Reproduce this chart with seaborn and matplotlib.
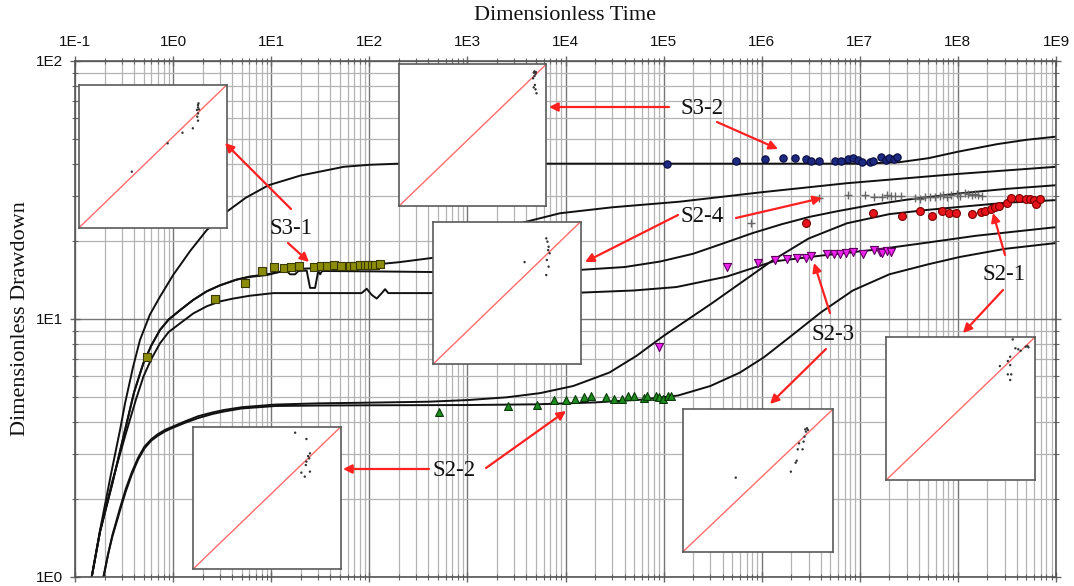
import numpy as np
import pandas as pd
import matplotlib
matplotlib.use("Agg")
import matplotlib.pyplot as plt
from matplotlib.ticker import LogLocator, NullFormatter
import seaborn as sns

sns.set_style("white")
plt.rcParams['font.family'] = ['Liberation Sans', 'DejaVu Sans']
SERIF = ['Liberation Serif', 'DejaVu Serif']

# ---------------- type curves (dimensionless time, dimensionless drawdown) ----------------
curve_a_t = [0.148, 0.18, 0.23, 0.288, 0.324, 0.39, 0.46, 0.58, 0.735, 1.0, 1.5, 2.2, 3.5, 5.5, 9.4, 20, 55, 100,
             200, 1e3, 1e4, 1e5, 1e6, 1e7, 2.5e7, 5e7, 1e8, 2.5e8, 5e8, 1e9]
curve_a_s = [1.0, 1.52, 2.45, 3.72, 4.72, 6.5, 8.3, 10.4, 12.2, 14.8, 18.4, 22.1, 26.0, 29.5, 33.0, 36.0, 38.9, 39.6,
             40.0, 40.0, 40.0, 40.0, 40.0, 40.0, 40.5, 42.0, 44.5, 47.6, 49.5, 50.9]

curve_b_t = [0.148, 0.18, 0.24, 0.324, 0.4, 0.497, 0.6, 0.735, 0.9, 1.17, 1.6, 2.2, 3.0, 4.4, 6.0, 9.0, 16.8, 40,
             80, 200, 525, 1e3, 2.5e3, 8.8e3, 3e4, 1.47e5, 1e6, 7.4e6, 1e8, 1e9]
curve_b_s = [1.0, 1.5, 2.3, 3.72, 5.2, 6.73, 7.9, 9.07, 9.95, 10.8, 11.85, 12.8, 13.5, 14.2, 14.6, 14.9, 15.6, 15.85,
             16.05, 16.6, 17.4, 19.0, 22.8, 25.7, 27.1, 28.5, 31.0, 33.6, 36.5, 38.9]

curve_c_t = [0.148, 0.18, 0.24, 0.324, 0.4, 0.497, 0.6, 0.735, 0.9, 1.17, 1.6, 2.2, 3.0, 4.4, 6.0, 9.0, 12, 14.4,
             15.6, 17.5, 18.9, 23, 24.9, 28, 30.2, 31.5, 33, 100, 500, 1.4e4, 4e4, 9.2e4, 2e5, 4e5, 8e5, 1.6e6,
             3.1e6, 6e6, 1.2e7, 3e7, 1.05e8, 3e8, 1e9]
curve_c_s = [1.0, 1.5, 2.3, 3.72, 5.2, 6.73, 7.9, 9.07, 9.95, 10.8, 11.85, 12.8, 13.5, 14.2, 14.55, 14.8, 15.2, 15.35,
             14.9, 14.9, 15.35, 15.4, 13.2, 13.2, 15.4, 14.9, 15.35, 15.3, 15.2, 15.5, 15.9, 16.7, 17.9, 19.6, 21.5,
             23.3, 24.9, 26.2, 27.5, 29.0, 30.7, 31.9, 33.0]

curve_d_t = [0.148, 0.18, 0.24, 0.33, 0.42, 0.5, 0.6, 0.735, 0.9, 1.17, 1.6, 2.2, 3.0, 4.1, 6.0, 10.5, 30, 83.6, 94,
             106, 119, 134, 145, 156, 500, 1.4e4, 5e4, 1.35e5, 4.4e5, 1.3e6, 4e6, 1.5e7, 5e7, 1.5e8, 1e9]
curve_d_s = [1.0, 1.5, 2.35, 3.6, 4.9, 6.0, 7.0, 8.05, 8.9, 9.6, 10.5, 11.2, 11.7, 12.0, 12.3, 12.6, 12.6, 12.6, 13.1,
             12.4, 12.0, 12.6, 13.05, 12.6, 12.6, 12.65, 12.9, 13.3, 14.6, 16.7, 17.6, 18.6, 19.8, 21.0, 22.7]

curve_e_t = [0.195, 0.22, 0.24, 0.29, 0.33, 0.38, 0.44, 0.51, 0.6, 0.7, 0.83, 0.98, 1.3, 1.8, 2.5, 3.3, 5, 11, 30,
             100, 400, 1e3, 2.5e3, 5.5e3, 1.2e4, 2.8e4, 5.3e4, 1e5, 3.1e5, 1.3e6, 3e6, 7.4e6, 2e7, 5e7, 1.05e8,
             3e8, 1e9]
curve_e_s = [1.0, 1.25, 1.45, 1.87, 2.2, 2.55, 2.9, 3.2, 3.42, 3.58, 3.72, 3.82, 4.0, 4.2, 4.34, 4.44, 4.55, 4.66,
             4.71, 4.74, 4.78, 4.85, 4.97, 5.16, 5.5, 6.2, 7.2, 8.6, 11.5, 16.9, 20.5, 23.5, 25.5, 26.5, 27.2,
             28.2, 28.9]

curve_f_t = [0.195, 0.22, 0.24, 0.29, 0.33, 0.38, 0.44, 0.51, 0.6, 0.7, 0.83, 0.98, 1.3, 1.8, 2.5, 3.3, 5, 11, 30,
             100, 1e3, 5.1e3, 2e4, 6e4, 1.4e5, 3e5, 6e5, 1.05e6, 2e6, 4e6, 8.5e6, 2e7, 5e7, 1.05e8, 3e8, 1e9]
curve_f_s = [1.0, 1.25, 1.43, 1.83, 2.15, 2.5, 2.85, 3.15, 3.38, 3.53, 3.67, 3.78, 3.95, 4.13, 4.28, 4.38, 4.5, 4.6,
             4.62, 4.63, 4.64, 4.67, 4.75, 4.87, 5.05, 5.5, 6.2, 7.1, 8.6, 10.6, 12.9, 14.9, 16.3, 17.4, 18.7, 19.7]

# ---------------- measured data ----------------
s31_t = [0.54, 2.67, 5.4, 8.0, 10.8, 13.5, 15.8, 19.3, 27.3, 32, 37, 43.7, 51, 64, 70, 80, 90, 97, 106, 114, 128]
s31_s = [7.1, 11.95, 13.8, 15.3, 15.9, 15.7, 15.9, 16.0, 15.9, 16.0, 16.0, 16.2, 16.0, 16.1, 16.1, 16.2, 16.15,
         16.15, 16.15, 16.15, 16.3]

s32_t = [1.09e5, 5.5e5, 1.08e6, 1.66e6, 2.2e6, 2.8e6, 3.2e6, 3.8e6, 5.6e6, 6.5e6, 7.6e6, 8.6e6, 9.6e6, 1.05e7,
         1.27e7, 1.37e7, 1.66e7, 1.86e7, 2.0e7, 2.25e7, 2.4e7]
s32_s = [40.0, 41.0, 41.6, 42.0, 42.0, 41.6, 40.8, 40.8, 41.0, 40.8, 41.7, 42.0, 41.3, 40.5, 40.5, 41.0, 42.3,
         41.3, 42.0, 41.6, 42.3]

s21_t = [2.8e6, 1.35e7, 2.7e7, 4.1e7, 5.5e7, 6.9e7, 8.2e7, 9.5e7, 1.4e8, 1.7e8, 1.9e8, 2.2e8, 2.4e8, 2.6e8,
         3.2e8, 3.5e8, 4.2e8, 4.9e8, 5.4e8, 6.0e8, 6.3e8, 6.9e8]
s21_s = [23.6, 25.8, 25.1, 26.2, 25.1, 26.3, 25.8, 25.7, 25.5, 26.1, 26.3, 26.7, 27.2, 27.5, 28.1, 29.5, 29.5,
         29.3, 29.3, 29.0, 27.8, 29.3]

s23_t = [9.0e4, 4.4e5, 9.2e5, 1.37e6, 1.8e6, 2.3e6, 2.8e6, 3.2e6, 4.6e6, 5.4e6, 6.3e6, 7.3e6, 8.5e6, 1.07e7,
         1.4e7, 1.6e7, 1.7e7, 1.9e7, 2.1e7]
s23_s = [7.77, 15.9, 16.5, 16.9, 17.1, 17.2, 17.3, 17.6, 17.9, 17.9, 17.9, 18.0, 18.2, 17.9, 18.5, 18.2, 18.0,
         18.3, 18.2]

s24_t = [7.7e5, 3.8e6, 7.6e6, 1.13e7, 1.4e7, 1.7e7, 1.9e7, 2.1e7, 2.3e7, 2.6e7, 3.66e7, 4.1e7, 4.6e7, 5.2e7,
         5.8e7, 6.6e7, 7.0e7, 7.7e7, 8.6e7, 9.7e7, 1.05e8, 1.18e8, 1.28e8, 1.38e8, 1.5e8, 1.6e8, 1.75e8]
s24_s = [23.6, 29.4, 30.2, 30.2, 29.8, 29.8, 30.2, 30.0, 30.0, 30.0, 29.4, 29.2, 29.6, 29.7, 29.8, 30.0, 30.3,
         29.8, 30.3, 30.5, 30.1, 30.8, 30.5, 30.3, 30.6, 30.3, 30.1]

s22_t = [515, 2.6e3, 5.1e3, 7.6e3, 1.0e4, 1.25e4, 1.54e4, 1.8e4, 2.6e4, 3.1e4, 3.8e4, 4.3e4, 5.0e4, 6.3e4,
         6.8e4, 8.4e4, 9.0e4, 9.8e4, 1.1e5, 1.2e5]
s22_s = [4.37, 4.6, 4.64, 4.85, 4.85, 4.9, 5.0, 5.03, 5.0, 4.9, 4.9, 5.03, 5.03, 4.93, 5.03, 5.03, 4.97, 4.9,
         5.03, 5.03]

# ---------------- fitted-vs-measured panels (fractions of panel) ----------------
p31_x = [0.807, 0.807, 0.80, 0.814, 0.807, 0.802, 0.807, 0.772, 0.702, 0.602, 0.36, 0.81]
p31_y = [0.860, 0.844, 0.826, 0.830, 0.802, 0.779, 0.751, 0.698, 0.667, 0.593, 0.395, 0.872]
p32_x = [0.915, 0.927, 0.92, 0.911, 0.923, 0.915, 0.927, 0.934, 0.92, 0.93]
p32_y = [0.941, 0.932, 0.917, 0.901, 0.854, 0.837, 0.823, 0.795, 0.95, 0.945]
p24_x = [0.767, 0.783, 0.79, 0.771, 0.783, 0.767, 0.62, 0.78, 0.775]
p24_y = [0.883, 0.824, 0.778, 0.731, 0.684, 0.625, 0.716, 0.80, 0.86]
p22_x = [0.691, 0.767, 0.791, 0.779, 0.786, 0.767, 0.763, 0.733, 0.791, 0.756]
p22_y = [0.958, 0.914, 0.813, 0.794, 0.778, 0.755, 0.731, 0.678, 0.685, 0.650]
p23_x = [0.828, 0.834, 0.821, 0.816, 0.811, 0.805, 0.775, 0.766, 0.798, 0.759, 0.752, 0.72, 0.352]
p23_y = [0.867, 0.855, 0.843, 0.859, 0.808, 0.773, 0.761, 0.719, 0.719, 0.639, 0.625, 0.562, 0.52]
p21_x = [0.848, 0.866, 0.885, 0.901, 0.935, 0.947, 0.954, 0.831, 0.815, 0.831, 0.762, 0.815, 0.838, 0.831]
p21_y = [0.981, 0.919, 0.912, 0.902, 0.930, 0.935, 0.926, 0.860, 0.830, 0.802, 0.795, 0.737, 0.737, 0.698]
diag = [0.0, 1.0]

# tick labels
x_ticks = [1e-1, 1e0, 1e1, 1e2, 1e3, 1e4, 1e5, 1e6, 1e7, 1e8, 1e9]
x_tick_labels = ["1E-1", "1E0", "1E1", "1E2", "1E3", "1E4", "1E5", "1E6", "1E7", "1E8", "1E9"]
y_ticks = [1e0, 1e1, 1e2]
y_tick_labels = ["1E0", "1E1", "1E2"]

# ---------------- figure ----------------
W, H = 1074, 586
fig = plt.figure(figsize=(W / 100, H / 100), dpi=100)


def px_axes(l, t, r, b):
    return fig.add_axes([l / W, 1 - b / H, (r - l) / W, (b - t) / H])


ax = px_axes(75, 61, 1056, 577)
ax.set_xscale('log')
ax.set_yscale('log')
ax.set_xlim(1e-1, 1e9)
ax.set_ylim(1, 100)

curves = pd.concat([
    pd.DataFrame({'t': t, 's': s, 'curve': name}) for name, t, s in [
        ('A', curve_a_t, curve_a_s), ('B', curve_b_t, curve_b_s), ('C', curve_c_t, curve_c_s),
        ('D', curve_d_t, curve_d_s), ('E', curve_e_t, curve_e_s), ('F', curve_f_t, curve_f_s)]
], ignore_index=True)
sns.lineplot(data=curves, x='t', y='s', units='curve', estimator=None, sort=False,
             color='#111111', lw=1.4, ax=ax, legend=False, zorder=2)

mk = dict(ax=ax, legend=False, zorder=3)
sns.scatterplot(x=s31_t, y=s31_s, marker='s', s=26, color='#8c8c0a', edgecolor='#3a3a00', linewidth=0.8, **mk)
sns.scatterplot(x=s32_t, y=s32_s, marker='o', s=28, color='#1c2a80', edgecolor='#0a0a40', linewidth=0.8, **mk)
sns.scatterplot(x=s21_t, y=s21_s, marker='o', s=32, color='#e8141c', edgecolor='#7a0000', linewidth=0.8, **mk)
sns.scatterplot(x=s23_t, y=s23_s, marker='v', s=34, color='#ee22ee', edgecolor='#600060', linewidth=0.8, **mk)
sns.scatterplot(x=s22_t, y=s22_s, marker='^', s=32, color='#1e8c1e', edgecolor='#0a3a0a', linewidth=0.8, **mk)
sns.scatterplot(x=s24_t, y=s24_s, marker='+', s=32, color='#666666', linewidth=1.0, **mk)

# grid and ticks
ax.set_xticks(x_ticks)
ax.set_xticklabels(x_tick_labels)
ax.set_yticks(y_ticks)
ax.set_yticklabels(y_tick_labels)
ax.xaxis.set_minor_locator(LogLocator(base=10, subs=np.arange(2, 10), numticks=200))
ax.yaxis.set_minor_locator(LogLocator(base=10, subs=np.arange(2, 10), numticks=200))
ax.xaxis.set_minor_formatter(NullFormatter())
ax.yaxis.set_minor_formatter(NullFormatter())
ax.grid(True, which='major', color='#767676', lw=1.0)
ax.grid(True, which='minor', color='#b4b4b4', lw=0.9)
ax.set_axisbelow(True)
ax.tick_params(which='both', direction='inout', top=True, bottom=True, left=True, right=True,
               labeltop=True, labelbottom=False, labelleft=True, labelright=False,
               color='#666666', labelsize=11, labelcolor='#111111')
ax.tick_params(which='major', length=7, width=1.0, pad=5)
ax.tick_params(which='minor', length=5, width=0.8)
for sp in ax.spines.values():
    sp.set_color('#555555')
    sp.set_linewidth(1.2)

ax.set_xlabel('Dimensionless Time', family=SERIF, fontsize=16, va='center', color='#111111')
ax.xaxis.set_label_coords(0.5, (577 - 16) / 516)
ax.set_ylabel('Dimensionless Drawdown', family=SERIF, fontsize=16, va='center', color='#111111')
ax.yaxis.set_label_coords((21 - 75) / 981, 0.5)

# ---------------- panels ----------------
panels = [
    ((78.5, 85, 226.6, 228.3), p31_x, p31_y),
    ((399.4, 64.3, 546.2, 205.7), p32_x, p32_y),
    ((433.2, 221.7, 580.6, 364), p24_x, p24_y),
    ((192.8, 426.7, 340.9, 569.3), p22_x, p22_y),
    ((683, 409.3, 832.8, 551.7), p23_x, p23_y),
    ((886.2, 336.7, 1035.4, 480), p21_x, p21_y),
]
for box, px, py in panels:
    ia = px_axes(*box)
    ia.set_facecolor('white')
    ia.set_xlim(0, 1)
    ia.set_ylim(0, 1)
    ia.set_xticks([])
    ia.set_yticks([])
    for sp in ia.spines.values():
        sp.set_color('#5a5a5a')
        sp.set_linewidth(1.2)
    sns.lineplot(x=diag, y=diag, color='#ff6a6a', lw=1.0, ax=ia, legend=False)
    sns.scatterplot(x=px, y=py, s=3, color='#333333', edgecolor='none', ax=ia, legend=False, zorder=3)
    ia.set_xlabel('')
    ia.set_ylabel('')

# ---------------- labels and arrows ----------------
ov = fig.add_axes([0, 0, 1, 1])
ov.set_xlim(0, W)
ov.set_ylim(H, 0)
ov.axis('off')

well_labels = ['S3-1', 'S3-2', 'S2-4', 'S2-1', 'S2-3', 'S2-2']
label_pos = [(291, 229), (702, 109), (702, 217), (1004, 275), (833, 335), (454, 470)]
arrow_tails = [[(291, 209), (288, 243)], [(669, 107), (717, 122)], [(678, 215), (736, 218)],
               [(1005, 255), (1003, 290)], [(830, 313), (826, 349)], [(429, 469), (486, 468)]]
arrow_heads = [[(225, 143), (309, 262)], [(549, 107), (778, 149)], [(585, 262), (822, 198)],
               [(993, 213), (963, 333)], [(814, 263), (770, 404)], [(343, 469), (566, 411)]]

for name, pos, tails, heads in zip(well_labels, label_pos, arrow_tails, arrow_heads):
    ov.text(pos[0], pos[1], name, family=SERIF, fontsize=16.5, ha='center', va='center', color='#111111')
    for tl, hd in zip(tails, heads):
        ov.annotate('', xy=hd, xytext=tl,
                    arrowprops=dict(arrowstyle='-|>', color='#ff2020', lw=1.6,
                                    mutation_scale=13, shrinkA=0, shrinkB=0))

fig.savefig('out.png', dpi=100, facecolor='white')
